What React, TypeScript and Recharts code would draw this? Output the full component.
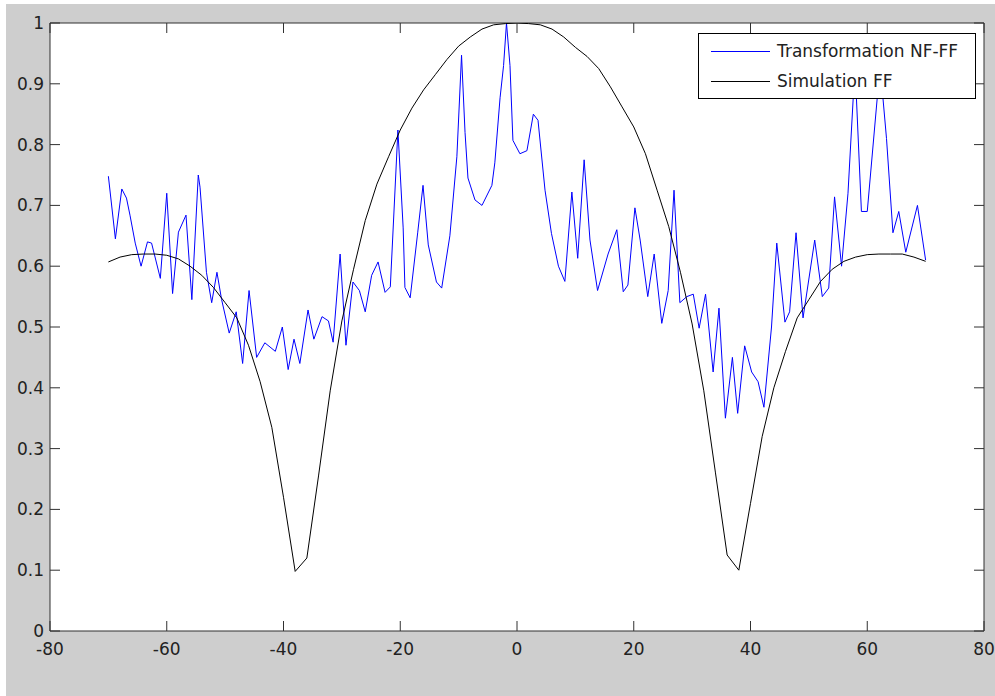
import React from "react";
import { LineChart, Line, XAxis, YAxis, CartesianGrid, ReferenceLine, Legend } from "recharts";

// ---------- data ----------
const transformAngles = [
  -70.0, -68.8, -67.7, -66.9, -66.3, -65.4, -64.4, -63.3, -62.6, -61.1, -60.0, -59.0, -58.0, -56.7, -55.7,
  -54.6, -54.3, -53.2, -52.3, -51.4, -50.6, -49.3, -48.1, -47.0, -45.9, -44.6, -43.2, -41.4, -40.2, -39.2,
  -38.2, -37.2, -35.8, -34.8, -33.4, -32.3, -31.5, -30.3, -29.3, -28.1, -27.0, -26.0, -24.9, -23.8, -22.6,
  -21.7, -20.4, -19.5, -19.2, -18.3, -17.0, -16.1, -15.2, -13.8, -12.9, -11.5, -10.3, -9.5, -8.9, -8.4,
  -7.2, -6.0, -4.3, -3.8, -2.9, -2.3, -1.8, -1.2, -0.7, 0.5, 1.7, 2.8, 3.6, 4.8, 5.9,
  7.1, 8.2, 9.4, 10.4, 11.5, 12.5, 13.8, 15.6, 17.1, 18.2, 19.0, 20.2, 21.1, 22.4, 23.5,
  24.8, 25.9, 26.9, 27.9, 29.1, 30.2, 31.2, 32.3, 33.6, 34.6, 35.7, 36.9, 37.8, 39.0, 40.2,
  41.3, 42.3, 43.6, 44.5, 45.9, 46.7, 47.8, 49.0, 51.0, 52.3, 53.4, 54.4, 55.6, 56.7, 57.9,
  59.0, 60.0, 62.2, 63.3, 64.4, 65.4, 66.6, 68.6, 70.0,
];
const transformValues = [
  0.748, 0.645, 0.727, 0.712, 0.684, 0.638, 0.6, 0.64, 0.638, 0.58, 0.72, 0.555, 0.656, 0.684, 0.545,
  0.75, 0.73, 0.59, 0.54, 0.59, 0.545, 0.49, 0.525, 0.44, 0.56, 0.45, 0.474, 0.46, 0.5, 0.43,
  0.48, 0.44, 0.528, 0.48, 0.517, 0.51, 0.475, 0.62, 0.47, 0.574, 0.56, 0.525, 0.585, 0.607, 0.557,
  0.566, 0.824, 0.663, 0.565, 0.548, 0.656, 0.733, 0.635, 0.574, 0.564, 0.65, 0.78, 0.947, 0.82, 0.745,
  0.709, 0.7, 0.733, 0.77, 0.877, 0.93, 1.0, 0.93, 0.807, 0.785, 0.79, 0.85, 0.84, 0.725, 0.654,
  0.6, 0.575, 0.722, 0.613, 0.775, 0.643, 0.56, 0.62, 0.66, 0.558, 0.569, 0.696, 0.643, 0.55, 0.62,
  0.506, 0.56, 0.725, 0.54, 0.55, 0.554, 0.498, 0.554, 0.426, 0.531, 0.35, 0.45, 0.358, 0.469, 0.426,
  0.41, 0.368, 0.5, 0.638, 0.508, 0.525, 0.655, 0.515, 0.643, 0.55, 0.564, 0.714, 0.6, 0.72, 0.93,
  0.69, 0.69, 0.93, 0.81, 0.655, 0.69, 0.623, 0.7, 0.61,
];

const simulationAngles = [
  -70, -68, -66, -64, -62, -60, -58, -56, -54, -52, -50, -48, -46, -44, -42, -40, -38, -36,
  -34, -32, -30, -28, -26, -24, -22, -20, -18, -16, -14, -12, -10, -8, -6, -4, -2, 0,
  2, 4, 6, 8, 10, 12, 14, 16, 18, 20, 22, 24, 26, 28, 30, 32, 34, 36,
  38, 40, 42, 44, 46, 48, 50, 52, 54, 56, 58, 60, 62, 64, 66, 68, 70,
];
const simulationValues = [
  0.607, 0.615, 0.619, 0.62, 0.62, 0.618, 0.612, 0.6, 0.585, 0.565, 0.54, 0.515, 0.47, 0.41, 0.335, 0.22, 0.098, 0.12,
  0.255, 0.395, 0.51, 0.595, 0.675, 0.735, 0.78, 0.824, 0.86, 0.89, 0.915, 0.94, 0.962, 0.977, 0.99, 0.997, 0.999, 1.0,
  0.999, 0.997, 0.99, 0.977, 0.96, 0.945, 0.925, 0.895, 0.862, 0.829, 0.785, 0.725, 0.665, 0.59, 0.505, 0.395, 0.26, 0.125,
  0.1, 0.21, 0.32, 0.4, 0.46, 0.515, 0.545, 0.575, 0.595, 0.608, 0.615, 0.619, 0.62, 0.62, 0.62, 0.615, 0.608,
];

const seriesNames = ["Transformation NF-FF", "Simulation FF"];
const xTicks = [-80, -60, -40, -20, 0, 20, 40, 60, 80];
const yTicks = [0, 0.1, 0.2, 0.3, 0.4, 0.5, 0.6, 0.7, 0.8, 0.9, 1];

const transformData = transformAngles.map((a, i) => ({ angle: a, value: transformValues[i] }));
const simulationData = simulationAngles.map((a, i) => ({ angle: a, value: simulationValues[i] }));

// ---------- layout ----------
const W = 995;
const H = 696;
const PLOT_TOP = 23;
const PLOT_LEFT = 50;
const PLOT_RIGHT = 984;
const PLOT_BOTTOM = 631;
const TICK_LEN = 10;
const AXIS_COLOR = "#303030";
const FONT = "'DejaVu Sans', sans-serif";
const FONT_SIZE = 17;

const XTick = (props: any) => {
  const { x, y, payload } = props;
  return (
    <g>
      <line x1={x} x2={x} y1={y} y2={y - TICK_LEN} stroke={AXIS_COLOR} strokeWidth={1} />
      <line x1={x} x2={x} y1={PLOT_TOP} y2={PLOT_TOP + TICK_LEN} stroke={AXIS_COLOR} strokeWidth={1} />
      <text x={x} y={y + 24} textAnchor="middle" fill="#222" fontFamily={FONT} fontSize={FONT_SIZE}>
        {payload.value}
      </text>
    </g>
  );
};

const YTick = (props: any) => {
  const { x, y, payload } = props;
  return (
    <g>
      <line x1={x} x2={x + TICK_LEN} y1={y} y2={y} stroke={AXIS_COLOR} strokeWidth={1} />
      <line x1={PLOT_RIGHT} x2={PLOT_RIGHT - TICK_LEN} y1={y} y2={y} stroke={AXIS_COLOR} strokeWidth={1} />
      <text x={x - 6} y={y + 6} textAnchor="end" fill="#222" fontFamily={FONT} fontSize={FONT_SIZE}>
        {payload.value}
      </text>
    </g>
  );
};

const LegendBox = (props: any) => {
  const payload = [...(props.payload || [])].sort(
    (a: any, b: any) => seriesNames.indexOf(a.value) - seriesNames.indexOf(b.value)
  );
  return (
    <div
      style={{
        width: 276,
        height: 62,
        border: "1px solid #000",
        background: "#fff",
        fontFamily: FONT,
        fontSize: FONT_SIZE,
        color: "#222",
        boxSizing: "content-box",
        paddingTop: 2,
      }}
    >
      {payload.map((p: any, i: number) => (
        <div key={i} style={{ display: "flex", alignItems: "center", height: 30, lineHeight: "30px" }}>
          <div style={{ marginLeft: 12, width: 59, height: 0, borderTop: `1px solid ${p.color}` }} />
          <span style={{ marginLeft: 7, whiteSpace: "nowrap" }}>{p.value}</span>
        </div>
      ))}
    </div>
  );
};

export default function App() {
  return (
    <div style={{ position: "absolute", left: 0, top: 0, width: W, height: H, background: "#fff" }}>
      <div style={{ position: "absolute", left: 6, top: 4, right: 0, bottom: 0, background: "#cecece" }} />
      <div style={{ position: "absolute", left: 0, top: 0 }}>
        <LineChart
          width={W}
          height={H}
          margin={{ top: PLOT_TOP, right: W - PLOT_RIGHT, bottom: 30, left: 0 }}
        >
          <CartesianGrid horizontal={false} vertical={false} fill="#ffffff" fillOpacity={1} />
          <XAxis
            dataKey="angle"
            type="number"
            domain={[-80, 80]}
            ticks={xTicks}
            allowDataOverflow
            height={H - 30 - PLOT_BOTTOM}
            tickSize={0}
            tickMargin={0}
            tickLine={false}
            axisLine={{ stroke: AXIS_COLOR, strokeWidth: 1 }}
            tick={<XTick />}
            interval={0}
          />
          <YAxis
            type="number"
            domain={[0, 1]}
            ticks={yTicks}
            allowDataOverflow
            width={PLOT_LEFT}
            tickSize={0}
            tickMargin={0}
            tickLine={false}
            axisLine={{ stroke: AXIS_COLOR, strokeWidth: 1 }}
            tick={<YTick />}
            interval={0}
          />
          <ReferenceLine y={1} stroke={AXIS_COLOR} strokeWidth={1} />
          <ReferenceLine x={80} stroke={AXIS_COLOR} strokeWidth={1} />
          <Line
            data={transformData}
            dataKey="value"
            name={seriesNames[0]}
            type="linear"
            stroke="#0000ff"
            strokeWidth={1}
            dot={false}
            activeDot={false}
            isAnimationActive={false}
          />
          <Line
            data={simulationData}
            dataKey="value"
            name={seriesNames[1]}
            type="linear"
            stroke="#000000"
            strokeWidth={1}
            dot={false}
            activeDot={false}
            isAnimationActive={false}
          />
          <Legend
            layout="horizontal"
            verticalAlign="middle"
            align="center"
            wrapperStyle={{ position: "absolute", left: 698, top: 33, width: 278, height: 64 }}
            content={<LegendBox />}
          />
        </LineChart>
      </div>
    </div>
  );
}
